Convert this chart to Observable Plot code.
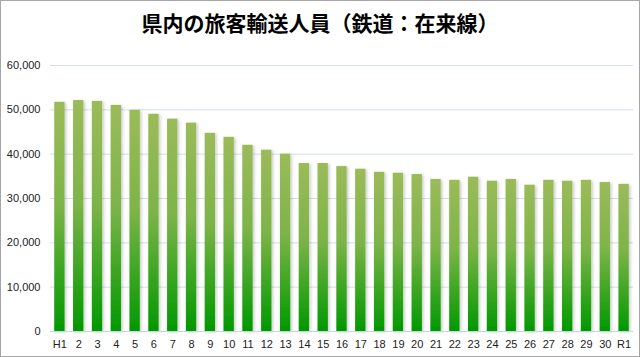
<!DOCTYPE html>
<html>
<head>
<meta charset="utf-8">
<script src="https://cdn.jsdelivr.net/npm/d3@7"></script>
<script src="https://cdn.jsdelivr.net/npm/@observablehq/plot@0.6"></script>
<style>
  html, body { margin: 0; padding: 0; background: #fff; }
  #wrap { position: relative; width: 640px; height: 357px; overflow: hidden; background: #fff; }
  #title { height: 44px; line-height: 44px; text-align: center; font-family: "Noto Sans CJK JP", sans-serif; font-weight: bold; font-size: 21px; color: #000; }
  #frame { position: absolute; left: 0; top: 0; width: 640px; height: 357px; box-sizing: border-box; border: 1px solid #a6a6a6; pointer-events: none; }
</style>
</head>
<body>
<div id="wrap">
  <div id="title">県内の旅客輸送人員（鉄道：在来線）</div>
  <div id="chart"></div>
  <div id="frame"></div>
</div>
<script>
const years = ["H1","2","3","4","5","6","7","8","9","10","11","12","13","14","15","16","17","18","19","20","21","22","23","24","25","26","27","28","29","30","R1"];
const riders = [51700,52100,51900,51000,49900,49000,47900,47000,44700,43800,42000,40900,40000,37900,37900,37200,36600,35900,35700,35400,34300,34100,34800,33900,34300,33000,34100,33900,34100,33600,33200];
const yTicks = [0,10000,20000,30000,40000,50000,60000];

const data = years.map((y, i) => ({year: y, value: riders[i]}));

const chart = Plot.plot({
  width: 640,
  height: 313,
  marginLeft: 50,
  marginRight: 7,
  marginTop: 21,
  marginBottom: 26,
  style: {fontFamily: "'Liberation Sans', sans-serif", fontSize: "11px", color: "#222", background: "transparent"},
  x: {domain: years, paddingInner: 0.45, paddingOuter: 0.225, round: false, label: null},
  y: {domain: [0, 60000], label: null},
  marks: [
    Plot.gridY(yTicks, {stroke: "#d4deec", strokeOpacity: 1}),
    Plot.barY(data, {x: "year", y: "value", fill: "url(#barGrad)"}),
    Plot.ruleY([0], {stroke: "#c8d4e6"}),
    Plot.axisY(yTicks, {tickSize: 0, tickPadding: 10, tickFormat: d3.format(","), fill: "#222", fontSize: 11}),
    Plot.axisX({tickSize: 0, tickPadding: 9, fill: "#222", fontSize: 11})
  ]
});

const svg = d3.select(chart);
const defs = svg.insert("defs", ":first-child");
const g = defs.append("linearGradient").attr("id", "barGrad").attr("x1", 0).attr("y1", 0).attr("x2", 0).attr("y2", 1);
g.append("stop").attr("offset", "0%").attr("stop-color", "#9bbb59");
g.append("stop").attr("offset", "45%").attr("stop-color", "#7db448");
g.append("stop").attr("offset", "100%").attr("stop-color", "#009900");
const f = defs.append("filter").attr("id", "shadow").attr("x", "-50%").attr("y", "-10%").attr("width", "200%").attr("height", "120%");
f.append("feDropShadow").attr("dx", 1.5).attr("dy", 1).attr("stdDeviation", 1.5).attr("flood-color", "#000").attr("flood-opacity", 0.22);
svg.select('g[aria-label="bar"]').attr("filter", "url(#shadow)");

document.getElementById("chart").appendChild(chart);
</script>
</body>
</html>
